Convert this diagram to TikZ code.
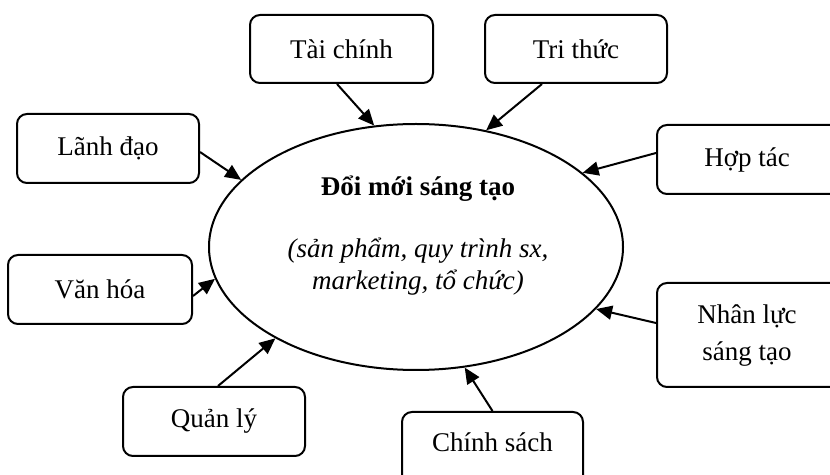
\documentclass[tikz,border=0pt]{standalone}
\usepackage{fontspec}
\setmainfont{Liberation Serif}
\usetikzlibrary{shapes.geometric,arrows.meta}
\begin{document}
\begin{tikzpicture}[x=0.5pt,y=-0.5pt,
  every node/.style={font=\fontsize{13.5pt}{16pt}\selectfont},
  box/.style={draw,line width=1pt,rounded corners=5pt,inner sep=0pt,align=center},
  conn/.style={line width=1pt,-{Triangle[length=8pt,width=7pt]}}]
\useasboundingbox (0,0) rectangle (830,475);
\clip (0,0) rectangle (830,475);
\node[draw,ellipse,line width=1pt,minimum width=207pt,minimum height=123pt,inner sep=0pt] (E) at (416,247) {};
\node[align=center] (ET) at (418,236) {\textbf{Đổi mới sáng tạo}\\[15pt]\textit{(sản phẩm, quy trình sx,}\\\textit{marketing, tổ chức)}};
\node[box,minimum width=91.5pt,minimum height=34pt] (tc) at (341.5,49) {Tài chính};
\node[box,minimum width=91pt,minimum height=34pt] (tt) at (576,49) {Tri thức};
\node[box,minimum width=91pt,minimum height=34.5pt] (ld) at (108,148.5) {Lãnh đạo};
\node[box,minimum width=92pt,minimum height=34.5pt] (vh) at (100,289.5) {Văn hóa};
\node[box,minimum width=100pt,minimum height=34.5pt] (ht) at (757,159.5) {\hspace*{-10pt}Hợp tác};
\node[box,minimum width=100pt,minimum height=52pt,font=\fontsize{13.5pt}{18.5pt}\selectfont] (nl) at (757,335) {\hspace*{-10pt}\begin{tabular}{@{}c@{}}Nhân lực\\sáng tạo\end{tabular}};
\node[box,minimum width=91pt,minimum height=34.5pt] (ql) at (214,421.5) {Quản lý};
\node[box,minimum width=90.5pt,minimum height=38pt] (cs) at (492.5,450) {\raisebox{4pt}[\height][\depth]{Chính sách}};
\draw[conn] ([xshift=-2.25pt]tc.south) -- (E.109);
\draw[conn] ([xshift=-17pt]tt.south) -- (E.59);
\draw[conn] ([yshift=-1.75pt]ld.east) -- (E.159);
\draw[conn] ([yshift=-3.25pt]vh.east) -- (E.189);
\draw[conn] ([yshift=3.25pt]ht.west) -- (E.24);
\draw[conn] ([yshift=6pt]nl.west) -- (E.-19);
\draw[conn] ([xshift=2pt]ql.north) -- (E.213);
\draw[conn] (cs.north) -- (E.-68);
\end{tikzpicture}
\end{document}
